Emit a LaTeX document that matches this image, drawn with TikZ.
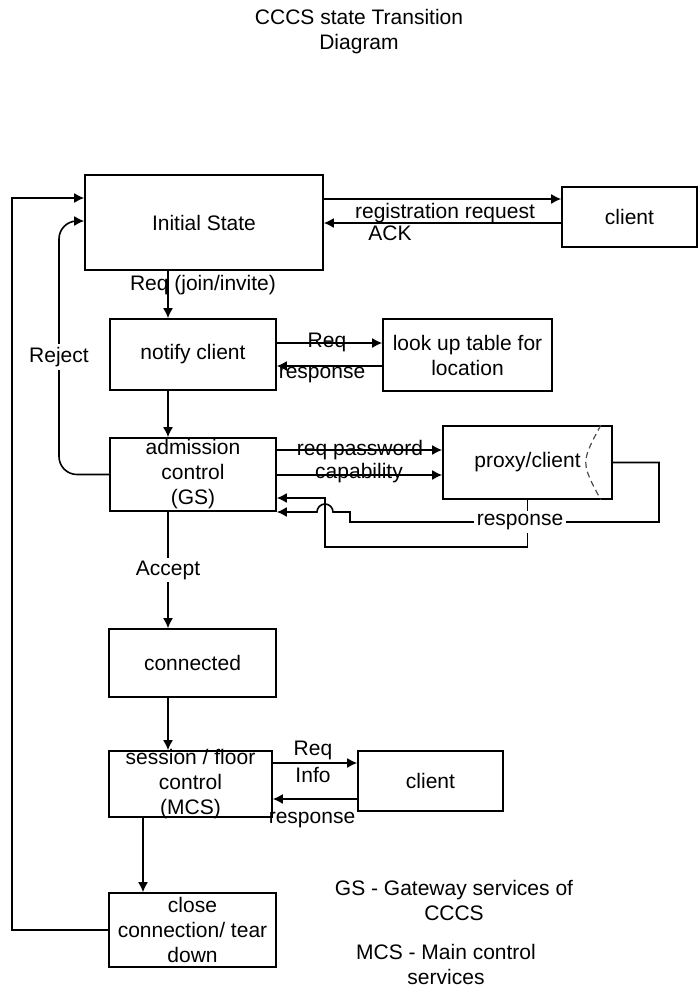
\documentclass[tikz,border=0pt]{standalone}
\usepackage{fontspec}
\setmainfont{Liberation Sans}
\usetikzlibrary{arrows.meta, calc}

\begin{document}
\begin{tikzpicture}[x=0.5pt, y=-0.5pt,
>={Latex[length=5pt,width=5pt]},line width=0.8pt,black,text=black,
font=\fontsize{10.5}{12.5}\selectfont,
box/.style={draw, inner sep=0pt, align=center},
lbl/.style={inner sep=0pt, align=center},
cut/.style={lbl, fill=white, inner sep=1.5pt}]

  \useasboundingbox (0,0) rectangle (700,997);

  % title
  \node[lbl] (title) at (359,32) {CCCS state Transition\\Diagram};

  % states
  \node[box, minimum width=119pt, minimum height=47.5pt] (init)    at (204,222.5) {Initial State};
  \node[box, minimum width=67.5pt, minimum height=30pt]  (client)  at (629.5,217) {client};
  \node[box, minimum width=83pt, minimum height=35.5pt]  (notify)  at (193,354.5) {notify client};
  \node[box, minimum width=84.5pt, minimum height=36pt]  (lookup)  at (467.5,355) {look up table for\\location};
  \node[box, minimum width=83pt, minimum height=36.5pt]  (adm)     at (193,474.5) {admission\\control\\(GS)};
  \node[box, minimum width=84.5pt, minimum height=36.5pt](proxy)   at (527.5,462.5) {proxy/client};
  \node[box, minimum width=83.5pt, minimum height=34pt]  (conn)    at (192.5,663) {connected};
  \node[box, minimum width=81.5pt, minimum height=33pt,
        label={[lbl]center:session / floor\\control\\(MCS)}] (sess) at (190.5,784) {};
  \node[box, minimum width=72.5pt, minimum height=30pt]  (client2) at (430.5,781) {client};
  \node[box, minimum width=83.5pt, minimum height=37pt]  (close)   at (192.5,930) {close\\connection/ tear\\down};

  % proxy end mark
  \draw[densely dashed, line width=0.6pt, black!70] ([xshift=-6pt]proxy.north east)
    .. controls ([xshift=-16pt]proxy.east) .. ([xshift=-6pt]proxy.south east);

  \coordinate (spine)  at (168,0);
  \coordinate (spine2) at (143,0);
  \coordinate (outer)  at (12,198);
  \coordinate (rej)    at (59,221);
  \coordinate (regy)   at (0,199);
  \coordinate (acky)   at (0,223);
  \coordinate (lreq)   at (0,343);
  \coordinate (lresp)  at (0,366);
  \coordinate (pwd)    at (0,450);
  \coordinate (cap)    at (0,475);
  \coordinate (rA)     at (659,522);
  \coordinate (hopA)   at (350,512);
  \coordinate (rB)     at (325,547);
  \coordinate (inB)    at (0,498);
  \coordinate (sreq)   at (0,763);
  \coordinate (sresp)  at (0,799);

  % main flow
  \draw[->] (init.south -| spine) -- (notify.north -| spine);
  \draw[->] (notify.south -| spine) -- (adm.north -| spine);
  \draw[->] (adm.south -| spine) -- node[cut] (accept) {Accept} (conn.north -| spine);
  \draw[->] (conn.south -| spine) -- (sess.north -| spine);
  \draw[->] (sess.south -| spine2) -- (close.north -| spine2);
  \draw[->] (close.west) -| (outer) -- (init.west |- outer);
  \draw[->] (adm.west) [rounded corners=9pt] -| (rej) [sharp corners] -- (init.west |- rej);
  \node[cut] (reject) at (59,357) {Reject};
  \node[lbl] (joinlbl) at (203,285) {Req (join/invite)};

  % registration
  \draw[->] (init.east |- regy) -- (client.west |- regy);
  \draw[->] (client.west |- acky) -- (init.east |- acky);
  \node[lbl] (reglbl) at (445,213) {registration request};
  \node[lbl] (acklbl) at (390,233) {ACK};

  % location lookup
  \draw[->] (notify.east |- lreq) -- (lookup.west |- lreq);
  \draw[->] (lookup.west |- lresp) -- (notify.east |- lresp);
  \node[lbl] (lreqlbl)  at (327,342) {Req};
  \node[lbl] (lresplbl) at (322,375) {response};

  % admission
  \draw[->] (adm.east |- pwd) -- (proxy.west |- pwd);
  \draw[->] (adm.east |- cap) -- (proxy.west |- cap);
  \node[lbl] (pwdlbl) at (360,450) {req password};
  \node[lbl] (caplbl) at (359,473) {capability};
  \draw[->] (proxy.east) -| (rA) -| (hopA) -- ++(-17,0)
    arc[start angle=0, end angle=180, radius=4pt] -- (adm.east |- hopA);
  \draw[->] (proxy.south) |- (rB) |- (adm.east |- inB);
  \node[cut] (resp) at (520,522) {response};

  % session
  \draw[->] (sess.east |- sreq) -- (client2.west |- sreq);
  \draw[->] (client2.west |- sresp) -- (sess.east |- sresp);
  \node[lbl] (sreqlbl)  at (313,750) {Req};
  \node[lbl] (infolbl)  at (313,775) {Info};
  \node[lbl] (sresplbl) at (312,820) {response};

  % notes
  \node[lbl] (gsnote)  at (454,900) {GS - Gateway services of\\CCCS};
  \node[lbl] (mcsnote) at (446,964) {MCS - Main control\\services};
\end{tikzpicture}
\end{document}
